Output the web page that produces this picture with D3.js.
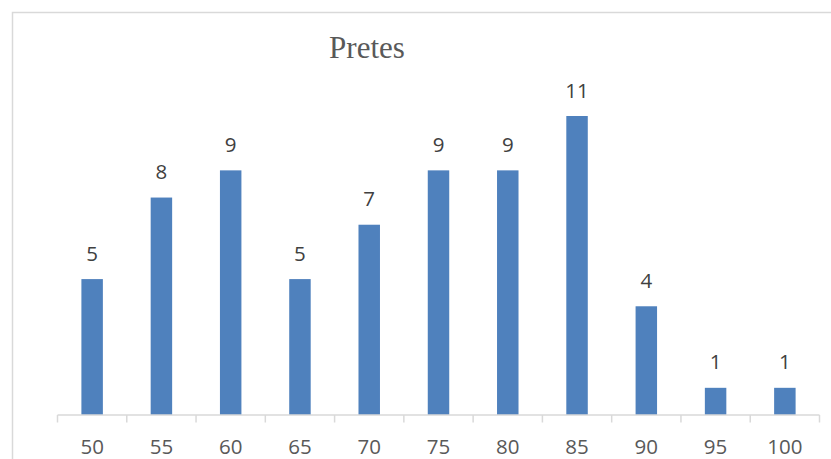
<!DOCTYPE html>
<html>
<head>
<meta charset="utf-8">
<script src="https://cdn.jsdelivr.net/npm/d3@7"></script>
<style>
  html, body { margin: 0; padding: 0; background: #fff; }
  svg { display: block; }
</style>
</head>
<body>
<svg id="chart" width="831" height="459"></svg>
<script>
// Score bins and counts
const categories = ["50", "55", "60", "65", "70", "75", "80", "85", "90", "95", "100"];
const counts = [5, 8, 9, 5, 7, 9, 9, 11, 4, 1, 1];
const chartTitle = "Pretes";

const svg = d3.select("#chart");

// Chart frame (runs past the right and bottom edges)
svg.append("rect")
  .attr("x", 12.5).attr("y", 12.5)
  .attr("width", 840).attr("height", 470)
  .attr("fill", "#fff")
  .attr("stroke", "#d9d9d9")
  .attr("stroke-width", 1.5);

const x = d3.scaleBand()
  .domain(categories)
  .range([57.5, 819.5])
  .paddingInner(0.69)
  .paddingOuter(0.345);

const y = d3.scaleLinear()
  .domain([0, 11])
  .range([415, 116]);

// Bars
svg.append("g").selectAll("rect")
  .data(categories)
  .join("rect")
  .attr("x", (d) => x(d))
  .attr("y", (d, i) => y(counts[i]))
  .attr("width", x.bandwidth())
  .attr("height", (d, i) => y(0) - y(counts[i]))
  .attr("fill", "#4f81bd");

// Category axis with ticks between bins
const axisG = svg.append("g").attr("transform", "translate(0,415)");
axisG.append("line")
  .attr("x1", 57.5).attr("x2", 819.5)
  .attr("stroke", "#d9d9d9").attr("stroke-width", 1.5);
const step = x.step();
const tickXs = d3.range(categories.length + 1).map((i) => 57.5 + i * step);
axisG.selectAll("line.tick")
  .data(tickXs)
  .join("line")
  .attr("class", "tick")
  .attr("x1", (d) => d).attr("x2", (d) => d)
  .attr("y1", 0).attr("y2", 7.5)
  .attr("stroke", "#d9d9d9").attr("stroke-width", 1.5);

axisG.selectAll("text")
  .data(categories)
  .join("text")
  .attr("x", (d) => x(d) + x.bandwidth() / 2)
  .attr("y", 39)
  .attr("text-anchor", "middle")
  .attr("font-family", "'Open Sans', sans-serif")
  .attr("font-size", 20.5)
  .attr("fill", "#595959")
  .text((d) => d);

// Value labels
svg.append("g").selectAll("text")
  .data(categories)
  .join("text")
  .attr("x", (d) => x(d) + x.bandwidth() / 2)
  .attr("y", (d, i) => y(counts[i]) - 18.5)
  .attr("text-anchor", "middle")
  .attr("font-family", "'Open Sans', sans-serif")
  .attr("font-size", 20.5)
  .attr("fill", "#404040")
  .text((d, i) => counts[i]);

// Title
svg.append("text")
  .attr("x", 367)
  .attr("y", 57.5)
  .attr("text-anchor", "middle")
  .attr("font-family", "'Liberation Serif', 'Times New Roman', serif")
  .attr("font-size", 31)
  .attr("fill", "#595959")
  .text(chartTitle);
</script>
</body>
</html>
